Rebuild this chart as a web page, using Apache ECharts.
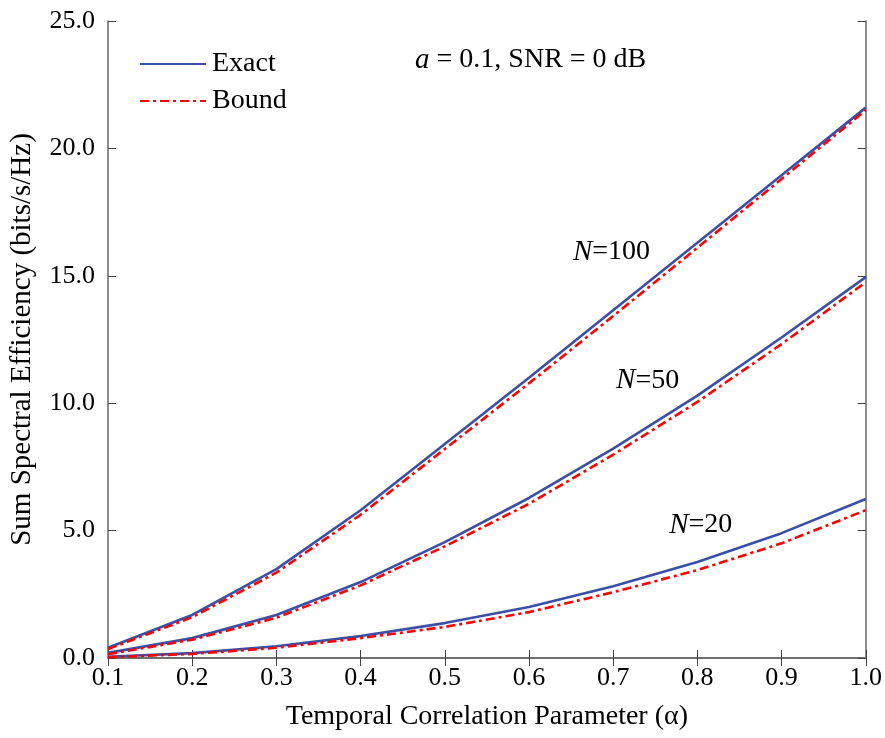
<!DOCTYPE html>
<html><head><meta charset="utf-8">
<script src="https://cdn.jsdelivr.net/npm/echarts@6/dist/echarts.min.js"></script>
<style>html,body{margin:0;padding:0;background:#fff}#c{width:885px;height:738px}</style>
</head><body><div id="c"></div>
<script>
const alpha = [0.1,0.2,0.3,0.4,0.5,0.6,0.7,0.8,0.9,1.0];
const exactN100 = [0.40,1.69,3.49,5.80,8.40,11.00,13.65,16.30,18.95,21.60];
const boundN100 = [0.35,1.60,3.35,5.62,8.20,10.78,13.42,16.10,18.80,21.50];
const exactN50  = [0.20,0.78,1.69,2.98,4.55,6.28,8.22,10.30,12.58,14.95];
const boundN50  = [0.15,0.72,1.58,2.85,4.38,6.05,7.98,10.05,12.32,14.75];
const exactN20  = [0.05,0.19,0.46,0.86,1.37,2.00,2.82,3.77,4.90,6.24];
const boundN20  = [0.03,0.16,0.40,0.78,1.22,1.80,2.58,3.45,4.50,5.80];
const yTicks = [0,5,10,15,20,25];

const BLUE = '#3a50a8', RED = '#ff0000';
const FONT = '"Liberation Serif","DejaVu Serif",serif';
const pair = (v) => alpha.map((a,i)=>[a,v[i]]);
const mk = (name, vals, color, dashed) => ({
  name, type:'line', data: pair(vals), symbol:'none', smooth:false,
  lineStyle:{color, width:2.6, type: dashed ? [9,4,3,4] : 'solid'},
  itemStyle:{color}, z: dashed ? 3 : 2
});
const axisLine = {show:true, lineStyle:{color:'#666', width:1.5}};
const tick = {show:true, inside:true, length:8, lineStyle:{color:'#444'}};
const chart = echarts.init(document.getElementById('c'));
chart.setOption({
  animation:false,
  grid:{left:106, right:19, top:21, bottom:80},
  legend:{
    data:['Exact','Bound'], orient:'vertical', left:134, top:45, itemWidth:66, itemHeight:14, itemGap:9,
    itemStyle:{opacity:0, borderWidth:0},
    textStyle:{fontFamily:FONT, fontSize:28, color:'#000', padding:[0,0,0,1]}
  },
  xAxis:[{
    type:'value', min:0.1, max:1.0, interval:0.1, position:'bottom',
    axisLine, axisTick:tick, splitLine:{show:false},
    axisLabel:{formatter:v=>v.toFixed(1), fontFamily:FONT, fontSize:26, color:'#000', margin:7},
    name:'Temporal Correlation Parameter (\u03b1)', nameLocation:'middle', nameGap:45,
    nameTextStyle:{fontFamily:FONT, fontSize:28, color:'#000'}
  },{
    type:'value', min:0.1, max:1.0, interval:0.1, position:'top',
    axisLine, axisTick:tick, axisLabel:{show:false}, splitLine:{show:false}
  }],
  yAxis:[{
    type:'value', min:0, max:25, interval:5, position:'left',
    axisLine, axisTick:tick, splitLine:{show:false},
    axisLabel:{formatter:v=>v.toFixed(1), fontFamily:FONT, fontSize:26, color:'#000', margin:13},
    name:'Sum Spectral Efficiency (bits/s/Hz)', nameLocation:'middle', nameGap:71,
    nameTextStyle:{fontFamily:FONT, fontSize:29, color:'#000'}
  },{
    type:'value', min:0, max:25, interval:5, position:'right',
    axisLine, axisTick:tick, axisLabel:{show:false}, splitLine:{show:false}
  }],
  series:[
    mk('Exact', exactN100, BLUE, false),
    mk('Bound', boundN100, RED, true),
    mk('Exact', exactN50, BLUE, false),
    mk('Bound', boundN50, RED, true),
    mk('Exact', exactN20, BLUE, false),
    mk('Bound', boundN20, RED, true)
  ]
});
const labels = [
  {at:[0.698,15.93], rich:[['i','N'],['n','=100']]},
  {at:[0.741,10.9], rich:[['i','N'],['n','=50']]},
  {at:[0.804,5.22], rich:[['i','N'],['n','=20']]},
  {at:[0.602,23.47], rich:[['i','a'],['n',' = 0.1, SNR = 0 dB']]}
];
const g = labels.map(l=>{
  const p = chart.convertToPixel({xAxisIndex:0, yAxisIndex:0}, l.at);
  return {type:'text', x:p[0], y:p[1], z:10, style:{
    text: l.rich.map(r=>'{'+r[0]+'|'+r[1]+'}').join(''),
    align:'center', verticalAlign:'middle',
    rich:{
      i:{fontFamily:FONT, fontSize:29, fontStyle:'italic', fill:'#000'},
      n:{fontFamily:FONT, fontSize:28, fill:'#000'}
    }
  }};
});
chart.setOption({graphic:g});
</script></body></html>
